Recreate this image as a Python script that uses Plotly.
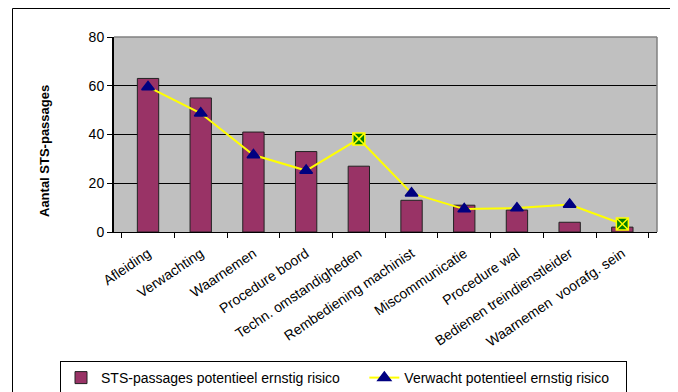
import plotly.graph_objects as go

categories = ["Afleiding", "Verwachting", "Waarnemen", "Procedure boord",
              "Techn. omstandigheden", "Rembediening machinist", "Miscommunicatie",
              "Procedure wal", "Bedienen treindienstleider", "Waarnemen  voorafg. sein"]
sts_values = [63, 55, 41, 33, 27, 13, 11, 9, 4, 2]
expected_values = [59.5, 48.7, 31.6, 25.2, 38.2, 15.9, 9.4, 9.8, 11.3, 3.3]
special_points = [False, False, False, False, True, False, False, False, False, True]
y_ticks = [0, 20, 40, 60, 80]
y_title = "Aantal STS-passages"
series_names = ["STS-passages potentieel ernstig risico", "Verwacht potentieel ernstig risico"]

# page body has an 8px margin; figure is sized to fill the rest of the window
OFF = 8
W, H = 678 - OFF, 392 - OFF
# plot-area edges in window pixels
L, R, T, B = 114, 657, 37, 232
pw, ph = R - L, B - T

def px_x(x):
    return (x - L) / pw

def px_y(y):
    return (B - y) / ph

font_family = "Arial, Liberation Sans, sans-serif"
NBSP = "\u00a0"

symbols = ["square-x" if s else "triangle-up" for s in special_points]
mcolors = ["#008000" if s else "#000080" for s in special_points]
lcolors = ["#FFFF00" if s else "#000080" for s in special_points]
sizes = [12 if s else 11 for s in special_points]

fig = go.Figure()
fig.add_trace(go.Bar(
    x=categories, y=sts_values,
    name=series_names[0] + NBSP * 5,
    marker=dict(color="#993366", line=dict(color="#222222", width=1)),
))
fig.add_trace(go.Scatter(
    x=categories, y=expected_values,
    name=series_names[1] + NBSP * 3,
    mode="lines+markers",
    line=dict(color="#FFFF00", width=2),
    marker=dict(symbol=symbols, color=mcolors, size=sizes, opacity=1,
                line=dict(color=lcolors, width=1.5)),
))

fig.update_layout(
    width=W, height=H,
    margin=dict(l=L - OFF, r=(W + OFF) - R, t=T - OFF, b=(H + OFF) - B,
                pad=0, autoexpand=False),
    paper_bgcolor="white",
    plot_bgcolor="#C0C0C0",
    bargap=0.595,
    font=dict(family=font_family, size=14, color="black"),
    showlegend=True,
    legend=dict(
        orientation="h",
        x=px_x(60), y=px_y(361), xanchor="left", yanchor="top",
        bordercolor="black", borderwidth=1, bgcolor="white",
        font=dict(size=14, family=font_family),
    ),
    xaxis=dict(
        type="category",
        tickangle=-34,
        tickfont=dict(size=14),
        showline=True, linecolor="black", linewidth=1,
        ticks="outside", ticklen=5, tickcolor="black",
        tickson="boundaries",
        ticklabelstandoff=7,
        showgrid=False,
        automargin=False,
    ),
    yaxis=dict(
        range=[0, 80],
        tickvals=y_ticks,
        tickfont=dict(size=14),
        showline=True, linecolor="black", linewidth=2,
        ticks="outside", ticklen=5, tickcolor="black",
        showgrid=True, gridcolor="black", gridwidth=1,
        zeroline=False,
        automargin=False,
    ),
    annotations=[
        dict(text="<b>" + y_title + "</b>", xref="paper", yref="paper",
             x=px_x(44), y=px_y(151), textangle=-90, showarrow=False,
             font=dict(size=13), xanchor="center", yanchor="middle"),
    ],
    shapes=[
        dict(type="line", xref="paper", yref="paper", x0=0, x1=1, y0=1, y1=1,
             line=dict(color="#808080", width=1.5)),
        dict(type="line", xref="paper", yref="paper", x0=1, x1=1, y0=0, y1=1,
             line=dict(color="#808080", width=1.5)),
        dict(type="rect", xref="paper", yref="paper",
             x0=px_x(12.5), x1=px_x(673.5), y0=px_y(400), y1=px_y(8.5),
             line=dict(color="black", width=1)),
    ],
)

fig.write_html("out.html")
